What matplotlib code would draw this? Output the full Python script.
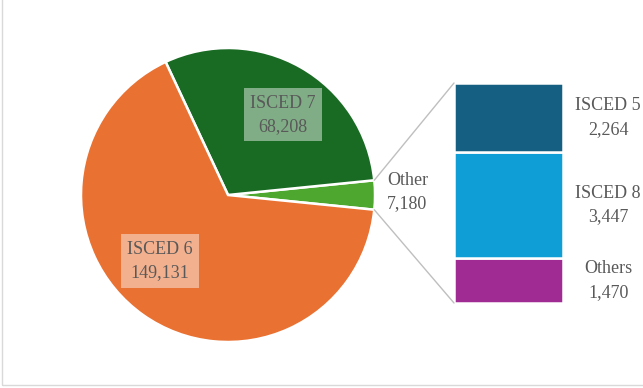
import matplotlib.pyplot as plt
from matplotlib.patches import ConnectionPatch, Rectangle
import numpy as np

# ---- data ----
pie_labels = ['Other', 'ISCED 7', 'ISCED 6']
pie_values = [7180, 68208, 149131]
pie_colors = ['#4EA72E', '#196B24', '#E97132']

bar_labels = ['Others', 'ISCED 8', 'ISCED 5']   # bottom -> top
bar_values = [1470, 3447, 2264]
bar_colors = ['#A02B93', '#0F9ED5', '#156082']

text_color = '#595959'
plt.rcParams['font.family'] = ['Liberation Serif', 'DejaVu Serif']

W, H = 643, 388
fig = plt.figure(figsize=(W / 100, H / 100), dpi=100)

# pie axes: centre (228,195) px, radius 147 px
cx, cy, r = 228, 195, 147
half = 150
ax1 = fig.add_axes([(cx - half) / W, 1 - (cy + half) / H, 2 * half / W, 2 * half / H])

other_angle = pie_values[0] / sum(pie_values) * 360
start = -other_angle / 2
ax1.pie(pie_values, colors=pie_colors, startangle=start, counterclock=True,
        radius=1, wedgeprops=dict(edgecolor='white', linewidth=1.8))
lim = half / r
ax1.set_xlim(-lim, lim)
ax1.set_ylim(-lim, lim)
ax1.axis('off')

fmt = lambda v: f'{v:,}'
ls = 1.5
box = dict(boxstyle='square,pad=0.35', fc='white', ec='none', alpha=0.45)
ax1.text(0.374, 0.545, f'{pie_labels[1]}\n{fmt(pie_values[1])}', ha='center', va='center',
         fontsize=13, color=text_color, bbox=box, linespacing=ls)
ax1.text(-0.463, -0.449, f'{pie_labels[2]}\n{fmt(pie_values[2])}', ha='center', va='center',
         fontsize=13, color=text_color, bbox=box, linespacing=ls)
ax1.text(1.22, 0.02, f'{pie_labels[0]}\n{fmt(pie_values[0])}', ha='center', va='center',
         fontsize=13, color=text_color, linespacing=ls, clip_on=False)

# bar axes: x 454-563, y 83-303 px
bx0, bx1, by0, by1 = 454, 563, 83, 303
ax2 = fig.add_axes([bx0 / W, 1 - by1 / H, (bx1 - bx0) / W, (by1 - by0) / H])
total = sum(bar_values)
ax2.set_xlim(-0.5, 0.5)
ax2.set_ylim(0, total)
ax2.axis('off')

bottom = 0
for lab, val, col in zip(bar_labels, bar_values, bar_colors):
    ax2.bar(0, val, width=1, bottom=bottom, color=col, edgecolor='white', linewidth=1.8)
    ax2.text(0.915, bottom + val / 2, f'{lab}\n{fmt(val)}', ha='center', va='center',
             fontsize=13, color=text_color, linespacing=ls, clip_on=False)
    bottom += val

# connector lines
th = np.deg2rad(other_angle / 2)
for sign, ybar in [(1, total), (-1, 0)]:
    con = ConnectionPatch(xyA=(np.cos(th), sign * np.sin(th)), coordsA=ax1.transData,
                          xyB=(-0.5, ybar), coordsB=ax2.transData,
                          color='#BFBFBF', linewidth=1)
    fig.add_artist(con)

# light frame around the chart area
fig.add_artist(Rectangle((2 / W, 3 / H), 1.0, 1.0, transform=fig.transFigure,
                         fill=False, edgecolor='#D9D9D9', linewidth=1))

fig.savefig('out.png', dpi=100)
